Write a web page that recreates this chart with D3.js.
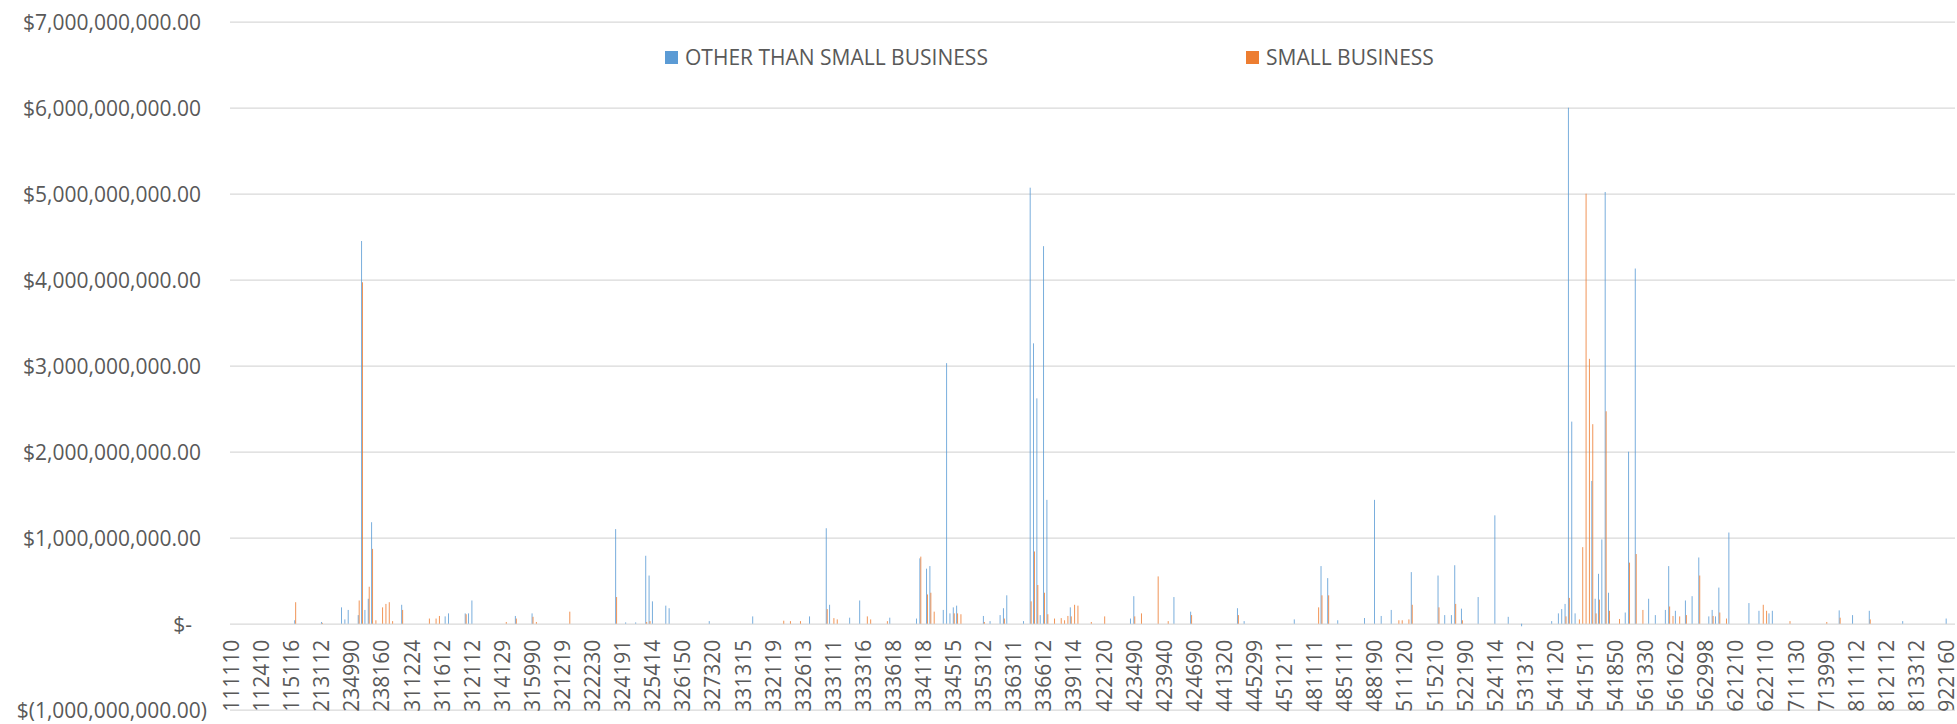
<!DOCTYPE html>
<html>
<head>
<meta charset="utf-8">
<script src="https://cdn.jsdelivr.net/npm/d3@7/dist/d3.min.js"></script>
<style>
  html, body { margin: 0; padding: 0; background: #ffffff; }
  svg { display: block; }
  text { font-family: "Open Sans", "Noto Sans", sans-serif; fill: #595959; }
</style>
</head>
<body>
<svg id="chart" width="1957" height="724"></svg>
<script>
// ---------------- DATA ----------------
// NAICS codes (category axis), in chart order
const categories = (
  "111110 111120 111140 111150 111199 111219 111310 111421 111998 " +
  "112410 112511 112990 113110 113210 113310 114111 114112 115111 " +
  "115116 115210 115310 211111 211112 212111 212221 212312 212321 " +
  "213112 213113 213114 221111 221112 221122 221310 233310 234110 " +
  "234990 235110 235310 235500 235710 235990 236115 236220 237110 " +
  "238160 238210 238220 238290 238320 238910 238990 311111 311211 " +
  "311224 311225 311230 311340 311352 311412 311421 311511 311520 " +
  "311612 311613 311615 311710 311811 311821 311911 311942 311999 " +
  "312112 312113 312120 312130 312140 313110 313210 313310 314110 " +
  "314129 314910 314999 315110 315211 315221 315231 315292 315299 " +
  "315990 315999 316110 316211 316998 321113 321114 321211 321214 " +
  "321219 321911 321912 321918 321920 321991 321999 322121 322211 " +
  "322230 322291 322299 323111 323113 323117 324110 324121 324122 " +
  "324191 324199 325110 325120 325180 325188 325193 325211 325311 " +
  "325414 325510 325520 325611 325612 325620 325910 325992 325998 " +
  "326150 326160 326191 326199 326211 326220 326291 326299 327110 " +
  "327320 327331 327390 327410 327420 327910 327993 327999 331110 " +
  "331315 331318 331410 331420 331491 331511 331524 332111 332117 " +
  "332119 332216 332311 332312 332313 332321 332322 332323 332510 " +
  "332613 332618 332710 332721 332722 332812 332912 332994 332999 " +
  "333111 333112 333120 333131 333132 333210 333244 333249 333314 " +
  "333316 333318 333413 333414 333415 333511 333514 333517 333612 " +
  "333618 333911 333912 333914 333921 333922 333923 333994 333999 " +
  "334118 334210 334220 334290 334310 334412 334413 334417 334419 " +
  "334515 334516 334519 334611 335110 335121 335129 335210 335311 " +
  "335312 335313 335314 335911 335921 335929 335931 335999 336111 " +
  "336311 336312 336320 336330 336340 336350 336390 336411 336413 " +
  "336612 336991 336992 336999 337110 337121 337211 339112 339113 " +
  "339114 339115 339116 339910 339920 339950 339999 421690 421830 " +
  "422120 422210 422490 422690 423210 423310 423410 423420 423430 " +
  "423490 423510 423610 423620 423690 423710 423720 423810 423830 " +
  "423940 423990 424110 424120 424210 424310 424410 424490 424610 " +
  "424690 424710 424720 424910 424990 425110 425120 441110 441310 " +
  "441320 442110 443120 443142 444110 444130 444190 445110 445120 " +
  "445299 445310 446110 446191 447110 448110 448140 448190 451110 " +
  "451211 452111 452112 452910 453210 453910 453998 454111 454390 " +
  "481111 481112 481211 481212 481219 482111 483111 484110 484121 " +
  "485111 485113 485210 485320 485410 485510 485999 488111 488119 " +
  "488190 488210 488310 488320 488330 488490 488510 492110 493110 " +
  "511120 511140 511199 511210 512110 512191 512290 515111 515112 " +
  "515210 517110 517210 517410 517919 518210 519130 519190 522110 " +
  "522190 522210 522291 522320 523110 523120 523920 523930 524113 " +
  "524114 524126 524210 524291 524298 525990 531110 531120 531311 " +
  "531312 531320 531390 532111 532120 532411 532490 533110 541110 " +
  "541120 541191 541199 541211 541214 541219 541310 541330 541380 " +
  "541511 541512 541513 541519 541611 541612 541614 541618 541690 " +
  "541850 541860 541910 541930 541990 561110 561210 561311 561320 " +
  "561330 561410 561421 561439 561499 561510 561611 561612 561621 " +
  "561622 561710 561720 561730 561790 561910 561990 562111 562910 " +
  "562998 611110 611310 611420 611430 611519 611699 611710 621111 " +
  "621210 621330 621399 621420 621491 621511 621610 621910 621999 " +
  "622110 622210 622310 623110 623990 624120 624190 624230 624310 " +
  "711130 711190 711211 711310 711320 711510 712110 713940 713950 " +
  "713990 721110 721214 722110 722310 722320 722511 722513 811111 " +
  "811112 811118 811121 811192 811198 811212 811213 811219 811310 " +
  "812112 812199 812320 812332 812910 812930 812990 813211 813219 " +
  "813312 813319 813410 813910 813920 813990 921110 921190 922120 " +
  "922160 922190 926150"
).trim().split(/\s+/);

// Category-axis tick labels shown on the chart
const xTickLabels = ["111110","112410","115116","213112","234990","238160","311224","311612",
  "312112","314129","315990","321219","322230","324191","325414","326150","327320","331315",
  "332119","332613","333111","333316","333618","334118","334515","335312","336311","336612",
  "339114","422120","423490","423940","424690","441320","445299","451211","481111","485111",
  "488190","511120","515210","522190","524114","531312","541120","541511","541850","561330",
  "561622","562998","621210","622110","711130","713990","811112","812112","813312","922160"];

// Value-axis ticks (dollars)
const yTickValues = [-1e9, 0, 1e9, 2e9, 3e9, 4e9, 5e9, 6e9, 7e9];

// Series names
const seriesNames = ["OTHER THAN SMALL BUSINESS", "SMALL BUSINESS"];

// OTHER THAN SMALL BUSINESS: [code, $ millions] (all other codes are 0)
const otherThanSmall = [
  ["115210",40],["213112",20],["221310",190],["233310",50],["234110",160],["235310",100],
  ["235500",4450],["235710",160],["235990",290],["236115",1180],["238990",220],["311613",85],
  ["311615",120],["311942",120],["311999",120],["312112",270],["315211",90],["315990",120],
  ["324121",1100],["324199",15],["325180",15],["325211",790],["325311",560],["325414",260],
  ["325612",210],["325620",180],["327110",30],["331420",85],["332710",85],["332994",1110],
  ["332999",220],["333210",70],["333314",270],["333612",70],["333994",60],["333999",760],
  ["334210",640],["334220",670],["334413",160],["334417",3030],["334419",120],["334515",190],
  ["334516",210],["335312",90],["335314",30],["335929",100],["335931",180],["335999",330],
  ["336330",30],["336350",5070],["336390",3260],["336411",2620],["336413",100],["336612",4390],
  ["336991",1440],["339113",190],["423430",60],["423490",320],["424120",310],["424610",140],
  ["444110",180],["444190",30],["452910",50],["481211",670],["481219",530],["484110",40],
  ["485999",66],["488190",1440],["488310",90],["488490",160],["511199",600],["517110",560],
  ["517410",100],["518210",100],["519130",680],["522110",175],["523110",310],["524114",1260],
  ["524298",80],["531311",-30],["541110",30],["541191",120],["541199",170],["541211",230],
  ["541214",6000],["541219",2350],["541310",120],["541513",1660],["541519",290],["541611",580],
  ["541612",980],["541614",5020],["541618",360],["541930",130],["541990",2000],["561210",4130],
  ["561410",290],["561439",100],["561611",160],["561612",670],["561622",150],["561730",270],
  ["561910",320],["562111",770],["611110",85],["611310",160],["611420",85],["611430",420],
  ["611710",1060],["621491",240],["621910",150],["622210",120],["622310",150],["722310",155],
  ["811111",100],["811198",150],["812930",30],["922160",60]
];

// SMALL BUSINESS: [code, $ millions] (all other codes are 0)
const smallBusiness = [
  ["115210",250],["213112",10],["235310",270],["235500",3970],["235990",430],["236115",870],
  ["236220",40],["238160",190],["238210",230],["238220",250],["238290",30],["238990",160],
  ["311412",60],["311511",60],["311520",90],["311942",110],["314910",20],["315211",60],
  ["315990",80],["315999",20],["321912",140],["324121",310],["325211",20],["325311",30],
  ["332312",35],["332321",30],["332510",30],["332994",170],["333111",65],["333112",50],
  ["333318",85],["333413",50],["333517",30],["333999",780],["334210",340],["334220",360],
  ["334290",140],["334515",120],["334516",120],["334519",110],["335312",20],["335931",60],
  ["336350",260],["336390",840],["336411",450],["336612",360],["336991",110],["336999",60],
  ["337121",65],["337211",40],["339112",90],["339113",85],["339114",220],["339115",210],
  ["339950",20],["422120",85],["423490",85],["423610",120],["423810",550],["423990",30],
  ["424610",100],["444110",100],["481112",190],["481211",330],["481219",330],["492110",40],
  ["493110",40],["511140",50],["511199",220],["517110",190],["519130",230],["522110",40],
  ["541211",85],["541214",300],["541330",50],["541380",890],["541511",5000],["541512",3080],
  ["541513",2320],["541519",120],["541611",280],["541614",2470],["541618",150],["541860",55],
  ["541990",710],["561210",810],["561320",160],["561612",200],["561621",90],["561710",85],
  ["561730",100],["562111",560],["611310",90],["611430",130],["611699",60],["621999",220],
  ["622110",150],["624230",30],["713990",20],["722310",70],["811198",50]
];

// ---------------- CHART ----------------
const W = 1957, H = 724;
const plotLeft = 230, plotRight = 1955, plotTop = 21.7, plotBottom = 709.7;
const colors = { "OTHER THAN SMALL BUSINESS": "#5B9BD5", "SMALL BUSINESS": "#ED7D31" };
const FONT = "21px";

const svg = d3.select("#chart");

const x = d3.scaleBand().domain(categories).range([plotLeft, plotRight]).paddingInner(0).paddingOuter(0);
// Excel clustered columns: gap width 150% -> each bar = band / 3.5
const xs = d3.scaleBand().domain(seriesNames).range([0, x.bandwidth()]).paddingInner(0).paddingOuter(0.75);
const y = d3.scaleLinear().domain([-1e9, 7e9]).range([plotBottom, plotTop]);

// gridlines
svg.append("g")
  .attr("transform", `translate(${plotLeft},0)`)
  .call(d3.axisLeft(y).tickValues(yTickValues).tickSize(-(plotRight - plotLeft)).tickFormat(""))
  .call(g => g.select(".domain").remove())
  .call(g => g.selectAll("line").attr("stroke", "#D9D9D9").attr("stroke-width", 1.3));

// y labels (accounting format)
const fmt = d3.format(",.2f");
function acct(v) {
  if (v === 0) return "$-";
  if (v < 0) return "$(" + fmt(-v) + ")";
  return "$" + fmt(v);
}
const yAxis = svg.append("g")
  .attr("transform", `translate(${plotLeft},0)`)
  .call(d3.axisLeft(y).tickValues(yTickValues).tickSize(0).tickPadding(0).tickFormat(acct));
yAxis.select(".domain").remove();
yAxis.selectAll("text")
  .style("font-size", FONT)
  .attr("fill", "#595959")
  .attr("x", d => d < 0 ? -23 : (d === 0 ? -38 : -29))
  .attr("dy", "0.35em");

// bars
const valueMaps = {
  "OTHER THAN SMALL BUSINESS": new Map(otherThanSmall),
  "SMALL BUSINESS": new Map(smallBusiness)
};
const barData = [];
seriesNames.forEach(s => {
  categories.forEach(c => {
    const v = valueMaps[s].get(c) || 0;
    if (v !== 0) barData.push({ series: s, code: c, value: v * 1e6 });
  });
});
svg.append("g").selectAll("rect")
  .data(barData)
  .join("rect")
  .attr("x", d => x(d.code) + xs(d.series))
  .attr("width", xs.bandwidth())
  .attr("y", d => y(Math.max(0, d.value)))
  .attr("height", d => Math.abs(y(d.value) - y(0)))
  .attr("fill", d => colors[d.series])
  .attr("fill-opacity", 0.85);

// category axis labels
const xAxis = svg.append("g")
  .attr("transform", `translate(0,${y(0)})`)
  .call(d3.axisBottom(x).tickValues(xTickLabels).tickSize(0));
xAxis.select(".domain").remove();
xAxis.selectAll("text")
  .style("font-size", FONT)
  .attr("fill", "#595959")
  .attr("transform", "rotate(-90)")
  .attr("x", -16)
  .attr("y", 0)
  .attr("dy", "0.35em")
  .style("text-anchor", "end");

// legend
const legendPos = [665, 1246];
const legend = svg.append("g");
seriesNames.forEach((s, i) => {
  const g = legend.append("g").attr("transform", `translate(${legendPos[i]},51)`);
  g.append("rect").attr("width", 13).attr("height", 13).attr("fill", colors[s]);
  g.append("text").attr("x", 20).attr("y", 6.5).attr("dy", "0.35em")
    .style("font-size", FONT).text(s);
});
</script>
</body>
</html>
